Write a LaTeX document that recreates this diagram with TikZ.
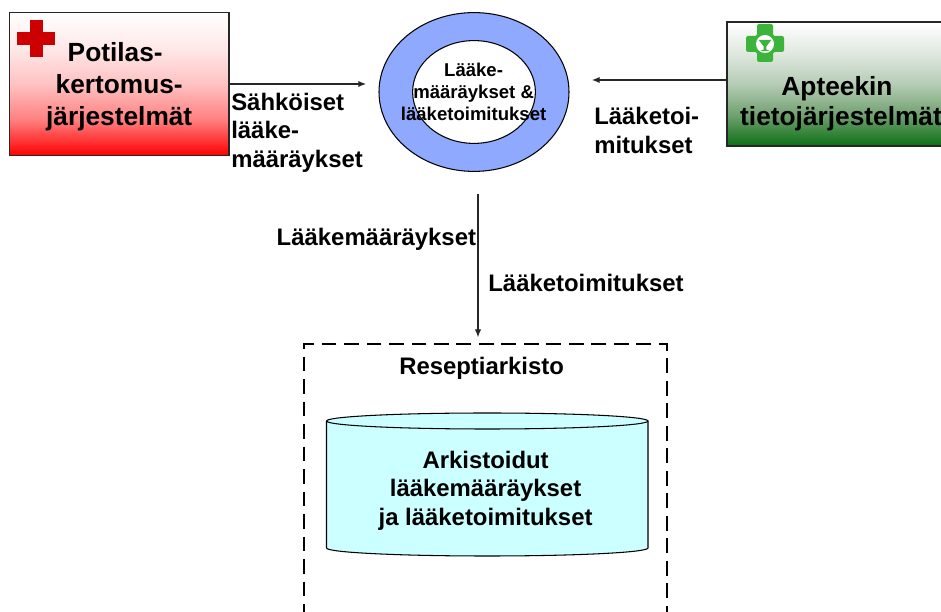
\documentclass[tikz,border=0pt]{standalone}
\usepackage{fontspec}
\setmainfont{Liberation Sans}
\usepackage{xcolor}
\usetikzlibrary{shapes.geometric,arrows.meta}

\definecolor{ringblue}{HTML}{8FA9FF}
\definecolor{archivecyan}{HTML}{CCFFFF}
\definecolor{crossred}{HTML}{CC0000}
\definecolor{crossgreen}{HTML}{3CB43C}

\pgfdeclareverticalshading{redfade}{100bp}{color(0bp)=(red); color(25bp)=(red); color(37.5bp)=(red!50); color(50bp)=(red!24); color(62.5bp)=(red!9); color(75bp)=(white); color(100bp)=(white)}
\pgfdeclareverticalshading{greenfade}{100bp}{rgb(0bp)=(0.04,0.44,0.08); rgb(25bp)=(0.04,0.44,0.08); rgb(37.5bp)=(0.44,0.63,0.44); rgb(50bp)=(0.71,0.80,0.71); rgb(62.5bp)=(0.88,0.91,0.88); rgb(75bp)=(1,1,1); rgb(100bp)=(1,1,1)}

\tikzset{
    sysbox/.style={draw=black!85, line width=0.75pt, rectangle, inner sep=0pt},
    bigtext/.style={font=\fontsize{18.7}{23}\selectfont\bfseries, align=center, inner sep=0pt},
    flowtext/.style={font=\fontsize{17}{20.6}\selectfont\bfseries, align=left, inner sep=0pt},
    ringtext/.style={font=\fontsize{13.2}{15.7}\selectfont\bfseries, align=center, inner sep=0pt},
    flow/.style={draw=black!85, line width=0.75pt, -{Latex[length=5.5pt,width=4.5pt]}}
}

\begin{document}
\begin{tikzpicture}
    \clip (0,0) rectangle (23.525,15.3);

    \node[sysbox, shading=redfade, minimum width=5.49cm, minimum height=3.575cm] (potilas) at (2.98,13.2) {};
    \node[sysbox, shading=greenfade, minimum width=5.7cm, minimum height=3.1cm] (apteekki) at (21.025,13.2) {};

    \fill[crossred] (0.75,14.8) rectangle (1.075,13.875);
    \fill[crossred] (0.425,14.5) rectangle (1.375,14.175);
    \fill[crossgreen, rounded corners=1.5pt] (18.925,14.7) -- (19.325,14.7) -- (19.325,14.4) -- (19.6,14.4) -- (19.6,14) -- (19.325,14) -- (19.325,13.75) -- (18.925,13.75) -- (18.925,14) -- (18.65,14) -- (18.65,14.4) -- (18.925,14.4) -- cycle;
    \fill[white] (19.125,14.2) circle (0.225);
    \fill[crossgreen] (18.97,14.3) -- (19.28,14.3) -- (19.16,14.14) -- (19.16,14.06) -- (19.24,14.03) -- (19.01,14.03) -- (19.09,14.06) -- (19.09,14.14) -- cycle;

    \node[bigtext] (potilastext) at (2.98,13.13) {Potilas-\hspace*{0.2cm}\\kertomus-\\järjestelmät};
    \node[bigtext, font=\fontsize{18.7}{21.5}\selectfont\bfseries] (apteekkitext) at (21.025,12.7) {Apteekin\hspace*{0.2cm}\\tietojärjestelmät};

    \node[ellipse, draw=black, line width=0.75pt, fill=ringblue, minimum width=4.75cm, minimum height=3.97cm, inner sep=0pt] (ringouter) at (11.85,13.0) {};
    \node[ellipse, draw=black, line width=0.75pt, fill=white, minimum width=3.07cm, minimum height=2.57cm, inner sep=0pt] (ringinner) at (11.85,13.0) {};
    \node[ringtext] (ringlabel) at (11.84,13.0) {Lääke-\\määräykset \&\\lääketoimitukset};

    \node[draw=black, line width=2pt, dash pattern=on 10.5pt off 5.5pt, minimum width=9.075cm, minimum height=7.4cm, inner sep=0pt] (arkisto) at (12.1375,3.0) {};
    \node[font=\fontsize{17}{20.6}\selectfont\bfseries, inner sep=0pt] (arkistotitle) at (12.04,6.1) {Reseptiarkisto};

    \draw[fill=archivecyan, line width=0.75pt] (8.1625,4.775) -- (8.1625,1.6) arc (180:360:4.01875 and 0.2) -- (16.2,4.775) arc (0:180:4.01875 and 0.2);
    \draw[line width=0.75pt] (8.1625,4.775) arc (180:360:4.01875 and 0.2);
    \node[flowtext, align=center] (varastotext) at (12.14,3.03) {Arkistoidut\\lääkemääräykset\\ja lääketoimitukset};

    \coordinate (potilasend) at (9.15,13.2);
    \coordinate (apteekkiend) at (14.8,13.3);
    \coordinate (keskusout) at (11.95,10.45);
    \coordinate (arkistoin) at (11.95,6.87);

    \draw[flow] (potilas.east) -- (potilasend);
    \draw[flow] (apteekki.west |- apteekkiend) -- (apteekkiend);
    \draw[flow] (keskusout) -- (arkistoin);

    \node[flowtext, anchor=west] (sahkoiset) at (5.775,11.98) {Sähköiset\\lääke-\\määräykset};
    \node[flowtext, anchor=west] (toimituksetup) at (14.85,12.05) {Lääketoi-\\mitukset};
    \node[flowtext] (maaraykset) at (9.41,9.32) {Lääkemääräykset};
    \node[flowtext] (toimitukset) at (14.65,8.22) {Lääketoimitukset};
\end{tikzpicture}
\end{document}
